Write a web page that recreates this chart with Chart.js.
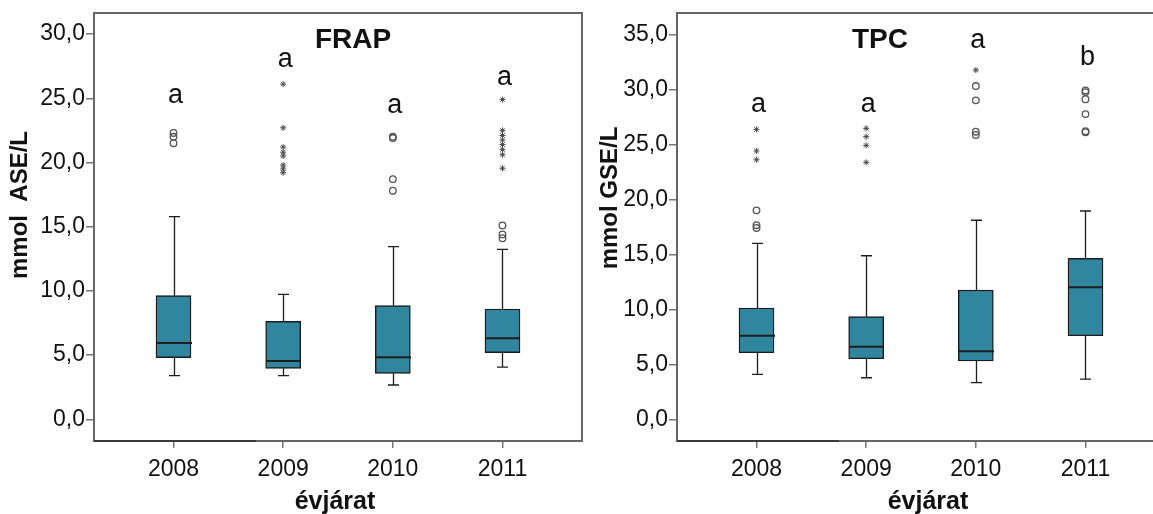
<!DOCTYPE html>
<html>
<head>
<meta charset="utf-8">
<script src="https://cdn.jsdelivr.net/npm/chart.js@4.4.1/dist/chart.umd.min.js"></script>
<style>
  html, body { margin: 0; padding: 0; background: #fff; }
  body { width: 1153px; height: 514px; overflow: hidden; position: relative; }
  .panel { position: absolute; top: 0; height: 514px; }
</style>
</head>
<body>
<div class="panel" style="left:0;width:590px"><canvas id="frap" width="590" height="514"></canvas></div>
<div class="panel" style="left:590px;width:600px"><canvas id="tpc" width="600" height="514"></canvas></div>
<script>
// Vintage years on the x axis
const years = [2008, 2009, 2010, 2011];

// FRAP, mmol ASE/L: whisker ends, quartiles and medians
const frapLow    = [3.40, 3.40, 2.67, 4.07];
const frapQ1     = [4.80, 3.97, 3.58, 5.19];
const frapMedian = [5.94, 4.54, 4.83, 6.31];
const frapQ3     = [9.63, 7.63, 8.85, 8.59];
const frapHigh   = [15.78, 9.73, 13.44, 13.24];
// FRAP outliers (circles) and extremes (stars)
const frapCircles = [[22.3, 22.0, 21.5], [], [22.0, 21.9, 18.7, 17.8], [15.1, 14.4, 14.1]];
const frapStars   = [[], [26.1, 22.7, 21.2, 20.8, 20.5, 19.8, 19.5, 19.2], [], [24.9, 22.5, 22.1, 21.75, 21.4, 21.0, 20.6, 19.55]];
// Significance letters and the value where each sits
const frapLetters  = ['a', 'a', 'a', 'a'];
const frapLetterAt = [24.63, 27.46, 23.86, 26.04];
const frapTicks = [0, 5, 10, 15, 20, 25, 30];

// TPC, mmol GSE/L
const tpcLow    = [4.09, 3.78, 3.33, 3.66];
const tpcQ1     = [6.05, 5.51, 5.30, 7.60];
const tpcMedian = [7.60, 6.60, 6.18, 12.00];
const tpcQ3     = [10.12, 9.33, 11.75, 14.63];
const tpcHigh   = [16.0, 14.87, 18.1, 18.94];
const tpcCircles = [[19.0, 17.65, 17.4], [], [30.3, 29.0, 26.15, 25.85], [29.9, 29.75, 29.1, 27.75, 26.2, 26.1]];
const tpcStars   = [[26.36, 24.4, 23.6], [26.45, 25.7, 24.9, 23.36], [31.75], []];
const tpcLetters  = ['a', 'a', 'a', 'b'];
const tpcLetterAt = [27.96, 27.96, 33.73, 32.2];
const tpcTicks = [0, 5, 10, 15, 20, 25, 30, 35];

const FONT = '"Liberation Sans", Arial, Helvetica, sans-serif';
Chart.defaults.font.family = FONT;

const fmt = v => v.toFixed(1).replace('.', ',');
const points = groups => years.flatMap((yr, i) => groups[i].map(v => ({ x: yr, y: v })));

// Whiskers, caps and median lines of each box
const boxParts = {
  id: 'boxParts',
  afterDatasetsDraw(chart, args, o) {
    const { ctx, scales: { x, y } } = chart;
    ctx.save();
    ctx.strokeStyle = '#1e1e1e';
    years.forEach((yr, i) => {
      const cx = Math.round(x.getPixelForValue(yr)) + 0.5;
      const lo = y.getPixelForValue(o.low[i]);
      const q1 = y.getPixelForValue(o.q1[i]);
      const q3 = y.getPixelForValue(o.q3[i]);
      const hi = y.getPixelForValue(o.high[i]);
      ctx.lineWidth = 1.3;
      ctx.beginPath();
      ctx.moveTo(cx, q1); ctx.lineTo(cx, lo);
      ctx.moveTo(cx - 5.5, lo); ctx.lineTo(cx + 5.5, lo);
      ctx.moveTo(cx, q3); ctx.lineTo(cx, hi);
      ctx.moveTo(cx - 5.5, hi); ctx.lineTo(cx + 5.5, hi);
      ctx.stroke();
      const m = y.getPixelForValue(o.median[i]);
      ctx.lineWidth = 2;
      ctx.beginPath();
      ctx.moveTo(cx - 17.5, m); ctx.lineTo(cx + 17.5, m);
      ctx.stroke();
    });
    ctx.restore();
  }
};

// Frame, panel title, axis titles and the significance letters
const annotate = {
  id: 'annotate',
  afterDraw(chart, args, o) {
    const { ctx, chartArea: a, scales: { x, y } } = chart;
    ctx.save();
    ctx.strokeStyle = '#666';
    ctx.lineWidth = 2;
    ctx.strokeRect(a.left, a.top, a.right - a.left, a.bottom - a.top);
    ctx.strokeStyle = '#3a3a3a';
    ctx.beginPath();
    ctx.moveTo(a.left, a.bottom); ctx.lineTo(a.left + 162, a.bottom);
    ctx.stroke();

    ctx.fillStyle = '#111';
    ctx.textAlign = 'center';
    ctx.textBaseline = 'alphabetic';
    ctx.font = '27px ' + FONT;
    o.letters.forEach((t, i) => {
      ctx.fillText(t, x.getPixelForValue(years[i]) + 2, y.getPixelForValue(o.letterAt[i]));
    });

    ctx.font = 'bold 28px ' + FONT;
    ctx.fillText(o.title, o.titleX, 48);

    ctx.font = 'bold 25px ' + FONT;
    ctx.fillText('évjárat', o.xTitleX, 509);

    ctx.font = 'bold 24px ' + FONT;
    ctx.translate(27, o.yTitleY);
    ctx.rotate(-Math.PI / 2);
    ctx.fillText(o.yTitle, 0, 0);
    ctx.restore();
  }
};

function makePanel(id, p) {
  const canvas = document.getElementById(id);
  return new Chart(canvas, {
    type: 'bar',
    data: {
      datasets: [
        {
          type: 'bar',
          data: years.map((yr, i) => ({ x: yr, y: [p.q1[i], p.q3[i]] })),
          backgroundColor: '#31869f',
          borderColor: '#1b1b1b',
          borderWidth: 1.4,
          borderSkipped: false,
          barThickness: 35
        },
        {
          type: 'scatter',
          data: points(p.circles),
          pointStyle: 'circle',
          radius: 3.3,
          borderColor: '#555',
          borderWidth: 1.3,
          backgroundColor: 'rgba(255,255,255,0)'
        },
        {
          type: 'scatter',
          data: points(p.stars),
          pointStyle: 'star',
          radius: 3,
          borderColor: '#4a4a4a',
          borderWidth: 1,
          backgroundColor: '#4a4a4a'
        }
      ]
    },
    options: {
      responsive: false,
      devicePixelRatio: 1,
      animation: false,
      events: [],
      layout: { padding: { left: 0, top: 13, right: p.padRight, bottom: 0 } },
      plugins: {
        legend: { display: false },
        tooltip: { enabled: false },
        boxParts: { low: p.low, q1: p.q1, median: p.median, q3: p.q3, high: p.high },
        annotate: {
          letters: p.letters, letterAt: p.letterAt, title: p.title, titleX: p.titleX,
          xTitleX: p.xTitleX, yTitle: p.yTitle, yTitleY: p.yTitleY
        }
      },
      scales: {
        x: {
          type: 'linear',
          min: 2007.275,
          max: 2011.725,
          offset: false,
          afterBuildTicks: s => { s.ticks = years.map(v => ({ value: v })); },
          afterFit: s => { s.height = 73; s.paddingLeft = 0; s.paddingRight = 0; },
          ticks: { callback: v => String(v), color: '#111', font: { size: 23 }, padding: 8, maxRotation: 0, autoSkip: false },
          grid: { offset: false, drawOnChartArea: false, drawTicks: true, tickLength: 7, color: '#777', lineWidth: 1.5 },
          border: { display: false }
        },
        y: {
          type: 'linear',
          min: p.yMin,
          max: p.yMax,
          afterBuildTicks: s => { s.ticks = p.ticks.map(v => ({ value: v })); },
          afterFit: s => { s.width = p.axisWidth; s.paddingTop = 0; s.paddingBottom = 0; },
          ticks: { callback: v => fmt(v), color: '#111', font: { size: 23 }, padding: 1 },
          grid: { drawOnChartArea: false, drawTicks: true, tickLength: 8, color: '#777', lineWidth: 1.5 },
          border: { display: false }
        }
      }
    },
    plugins: [boxParts, annotate]
  });
}

makePanel('frap', {
  low: frapLow, q1: frapQ1, median: frapMedian, q3: frapQ3, high: frapHigh,
  circles: frapCircles, stars: frapStars, letters: frapLetters, letterAt: frapLetterAt,
  ticks: frapTicks, yMin: -1.69, yMax: 31.64, axisWidth: 94, padRight: 8,
  title: 'FRAP', titleX: 353, xTitleX: 335, yTitle: 'mmol  ASE/L', yTitleY: 205
});

makePanel('tpc', {
  low: tpcLow, q1: tpcQ1, median: tpcMedian, q3: tpcQ3, high: tpcHigh,
  circles: tpcCircles, stars: tpcStars, letters: tpcLetters, letterAt: tpcLetterAt,
  ticks: tpcTicks, yMin: -1.97, yMax: 36.94, axisWidth: 87, padRight: 25,
  title: 'TPC', titleX: 290, xTitleX: 338, yTitle: 'mmol GSE/L', yTitleY: 198
});
</script>
</body>
</html>
